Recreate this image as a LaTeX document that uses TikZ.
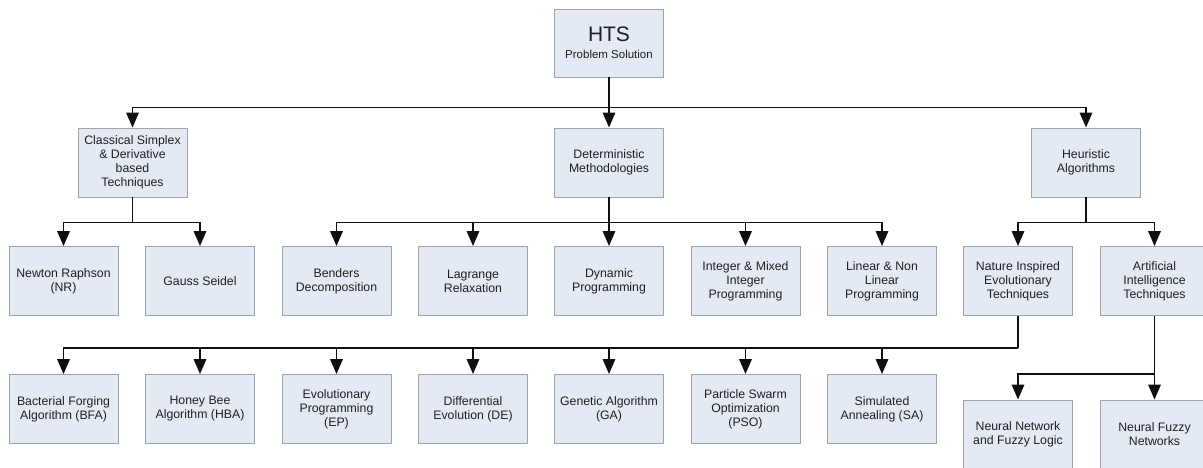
\documentclass[tikz,border=0pt]{standalone}
\usepackage{fontspec}
\setmainfont{Liberation Sans}
\usepackage{tikz}
\usetikzlibrary{arrows.meta}

\definecolor{boxfill}{RGB}{228,234,244}
\definecolor{boxline}{RGB}{160,163,168}
\definecolor{wire}{RGB}{15,15,15}

\tikzset{
  box/.style={draw=boxline, line width=0.9pt, fill=boxfill, align=center,
    minimum width=109pt, minimum height=69pt, inner sep=2pt,
    font=\fontsize{12.3}{14}\selectfont, text=black!88},
  wirearrow/.style={draw=wire, line width=1.7pt, -{Triangle[width=12.5pt,length=15pt]}},
  wireline/.style={draw=wire, line width=1.7pt}
}

\begin{document}
\begin{tikzpicture}[x=1pt, y=-1pt]

  \useasboundingbox (0,0) rectangle (1203,467);
  \fill[white] (0,0) rectangle (1203,467);
  \clip (0,0) rectangle (1203,467);

  \begin{scope}

  % top
  \draw (609,43) node[box, name=hts, minimum height=68pt] {{\fontsize{21}{22}\selectfont HTS}\\[3pt]{\fontsize{11.5}{13}\selectfont Problem Solution}};

  % first level
  \draw (132.5,162.5) node[box, name=classic] {Classical Simplex\\\& Derivative\\based\\Techniques};
  \draw (609,162.5) node[box, name=determ] {Deterministic\\Methodologies};
  \draw (1086,162.5) node[box, name=heur] {Heuristic\\Algorithms};

  % second level
  \draw (63.5,281) node[box, name=newton] {Newton Raphson\\(NR)};
  \draw (200,281) node[box, name=gauss] {Gauss Seidel};
  \draw (336.5,281) node[box, name=benders] {Benders\\Decomposition};
  \draw (473,281) node[box, name=lagrange] {Lagrange\\Relaxation};
  \draw (609,281) node[box, name=dynprog] {Dynamic\\Programming};
  \draw (745.5,281) node[box, name=intprog] {Integer \& Mixed\\Integer\\Programming};
  \draw (882,281) node[box, name=linprog] {Linear \& Non\\Linear\\Programming};
  \draw (1018,281) node[box, name=nature] {Nature Inspired\\Evolutionary\\Techniques};
  \draw (1154.5,281) node[box, name=artint] {Artificial\\Intelligence\\Techniques};

  % third level
  \draw (63.5,409) node[box, name=bfa] {Bacterial Forging\\Algorithm (BFA)};
  \draw (200,409) node[box, name=hba] {Honey Bee\\Algorithm (HBA)};
  \draw (336.5,409) node[box, name=ep] {Evolutionary\\Programming\\(EP)};
  \draw (473,409) node[box, name=de] {Differential\\Evolution (DE)};
  \draw (609,409) node[box, name=ga] {Genetic Algorithm\\(GA)};
  \draw (745.5,409) node[box, name=pso] {Particle Swarm\\Optimization\\(PSO)};
  \draw (882,409) node[box, name=sa] {Simulated\\Annealing (SA)};

  % fourth level
  \draw (1018,434.5) node[box, name=nnfl] {Neural Network\\and Fuzzy Logic};
  \draw (1154.5,434.5) node[box, name=nfn] {Neural Fuzzy\\Networks};

  % junctions
  \draw (609,107.5) coordinate (jtop);
  \draw (132.5,222.5) coordinate (jclassic);
  \draw (609,222.5) coordinate (jdeterm);
  \draw (1086,222.5) coordinate (jheur);
  \draw (1018,348) coordinate (jnature);
  \draw (1154.5,374) coordinate (jartint);

  % connectors
  \draw [wireline] (hts) -- (jtop);
  \draw [wirearrow] (jtop) -| (classic.north);
  \draw [wirearrow] (jtop) -- (determ.north);
  \draw [wirearrow] (jtop) -| (heur.north);

  \draw [wireline] (classic) -- (jclassic);
  \draw [wirearrow] (jclassic) -| (newton.north);
  \draw [wirearrow] (jclassic) -| (gauss.north);

  \draw [wireline] (determ) -- (jdeterm);
  \draw [wirearrow] (jdeterm) -| (benders.north);
  \draw [wirearrow] (jdeterm) -| (lagrange.north);
  \draw [wirearrow] (jdeterm) -- (dynprog.north);
  \draw [wirearrow] (jdeterm) -| (intprog.north);
  \draw [wirearrow] (jdeterm) -| (linprog.north);

  \draw [wireline] (heur) -- (jheur);
  \draw [wirearrow] (jheur) -| (nature.north);
  \draw [wirearrow] (jheur) -| (artint.north);

  \draw [wireline] (nature) -- (jnature);
  \draw [wirearrow] (jnature) -| (bfa.north);
  \draw [wirearrow] (jnature) -| (hba.north);
  \draw [wirearrow] (jnature) -| (ep.north);
  \draw [wirearrow] (jnature) -| (de.north);
  \draw [wirearrow] (jnature) -| (ga.north);
  \draw [wirearrow] (jnature) -| (pso.north);
  \draw [wirearrow] (jnature) -| (sa.north);

  \draw [wireline] (artint) -- (jartint);
  \draw [wirearrow] (jartint) -| (nnfl.north);
  \draw [wirearrow] (jartint) -- (nfn.north);

  \end{scope}

\end{tikzpicture}
\end{document}
